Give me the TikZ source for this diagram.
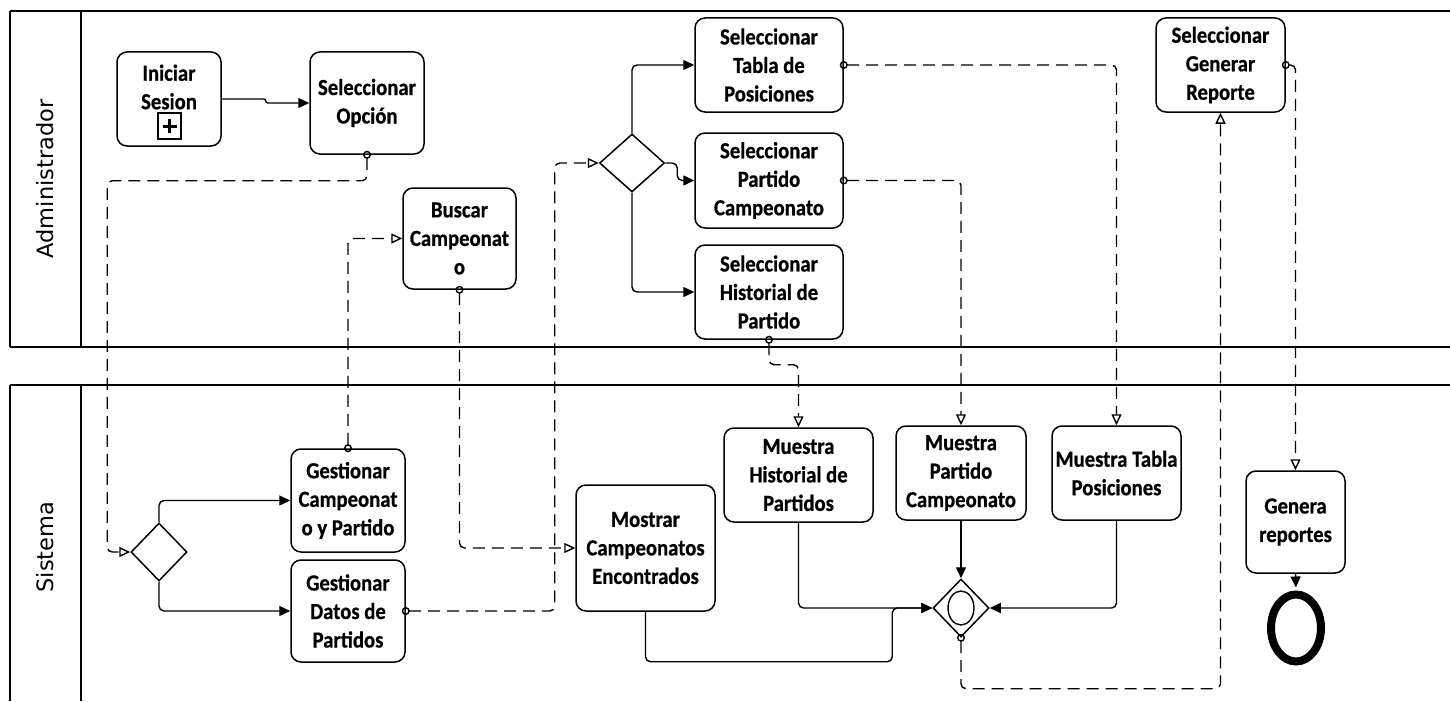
\documentclass[tikz,border=0pt]{standalone}
\usepackage{fontspec}
\setmainfont{Carlito}
\newfontfamily\taskfont[FakeStretch=0.9, BoldFeatures={FakeBold=0.6}]{Carlito}
\newfontfamily\lanefont{DejaVu Sans}
\usetikzlibrary{arrows.meta,shapes.geometric,calc}

\begin{document}
\begin{tikzpicture}[x=1pt,y=-1pt,
  lane/.style={line width=2pt},
  lanelabel/.style={font=\lanefont\fontsize{22.5}{26}\selectfont, rotate=90, inner sep=0pt},
  task/.style={draw, rounded corners=10pt, line width=1.5pt, align=center, inner sep=0pt,
    font=\taskfont\bfseries\fontsize{23}{28.5}\selectfont},
  tasktext/.style={align=center, inner sep=0pt, font=\taskfont\bfseries\fontsize{23}{28.5}\selectfont},
  gw/.style={draw, diamond, line width=1.5pt, inner sep=0pt},
  flow/.style={line width=1.4pt, rounded corners=5pt, -{Triangle[length=11pt,width=10pt]}},
  msg/.style={line width=1.4pt, dash pattern=on 12pt off 7pt, rounded corners=5pt,
    {Circle[open,length=8pt,width=8pt]}-{Triangle[open,length=11pt,width=10pt]},
    shorten <=-4pt},
]
\useasboundingbox (0,0) rectangle (1450,701);

% swimlanes
\draw[lane] (10,11) -- (1450,11);
\draw[lane] (10,347) -- (1450,347);
\draw[lane] (10,11) -- (10,347);
\draw[lane] (81,11) -- (81,347);
\draw[lane] (10,385) -- (1450,385);
\draw[lane] (10,385) -- (10,701);
\draw[lane] (81,385) -- (81,701);
\node[lanelabel] (laneAdmin) at (45,179) {Administrador};
\node[lanelabel] (laneSis) at (45,547) {Sistema};

% Administrador lane
\node[task, minimum width=104pt, minimum height=94pt] (inicio) at (169,99) {};
\node[tasktext] (inicioTxt) at (169,87) {Iniciar\\Sesion};
\node[draw, line width=1.2pt, minimum width=23pt, minimum height=26pt, inner sep=0pt] (plusbox) at (169.5,126) {};
\draw[line width=3pt] ($(plusbox.center)+(-7,0)$) -- ($(plusbox.center)+(7,0)$);
\draw[line width=3pt] ($(plusbox.center)+(0,-7)$) -- ($(plusbox.center)+(0,7)$);

\node[task, minimum width=114pt, minimum height=102pt] (opcion) at (367,103) {Seleccionar\\Opción};
\node[task, minimum width=113pt, minimum height=101pt] (buscar) at (459.5,238.5) {Buscar\\Campeonat\\o};
\node[gw, minimum width=65pt, minimum height=58pt] (gwA) at (632,163) {};
\node[task, minimum width=148pt, minimum height=94pt] (tabla) at (769,65) {Seleccionar\\Tabla de\\Posiciones};
\node[task, minimum width=148pt, minimum height=95pt] (partido) at (769,180.5) {Seleccionar\\Partido\\Campeonato};
\node[task, minimum width=148pt, minimum height=94pt] (historial) at (769,292) {Seleccionar\\Historial de\\Partido};
\node[task, minimum width=129pt, minimum height=94pt] (reporte) at (1220.5,65) {Seleccionar\\Generar\\Reporte};

% Sistema lane
\node[gw, minimum width=56pt, minimum height=58pt] (gwB) at (159,552) {};
\node[task, minimum width=114pt, minimum height=103pt] (gestC) at (348,500.5) {Gestionar\\Campeonat\\o y Partido};
\node[task, minimum width=114pt, minimum height=102pt] (gestD) at (348,611) {Gestionar\\Datos de\\Partidos};
\node[task, minimum width=139pt, minimum height=126pt] (mostrar) at (645.5,548) {Mostrar\\Campeonatos\\Encontrados};
\node[task, minimum width=149pt, minimum height=94pt] (muestraH) at (798.5,475) {Muestra\\Historial de\\Partidos};
\node[task, minimum width=130pt, minimum height=94pt] (muestraP) at (961,473) {Muestra\\Partido\\Campeonato};
\node[task, minimum width=129pt, minimum height=94pt] (muestraT) at (1116.5,473) {Muestra Tabla\\Posiciones};
\node[gw, minimum width=56pt, minimum height=58pt] (gwC) at (961,608) {};
\node[draw, ellipse, line width=1.4pt, minimum width=26pt, minimum height=34pt, inner sep=0pt] (gwCmark) at (gwC.center) {};
\node[task, minimum width=99pt, minimum height=102pt] (genera) at (1295.5,522) {Genera\\reportes};
\node[draw, ellipse, line width=8pt, minimum width=50pt, minimum height=67pt, inner sep=0pt] (endev) at (1296,628) {};

% sequence flows
\draw[flow, rounded corners=2pt] (inicio.east) -- ++(44,0) |- (opcion.west);
\draw[flow] (gwA.north) |- (tabla.west);
\draw[flow] (gwA.east) -- ++(12,0) |- (partido.west);
\draw[flow] (gwA.south) |- (historial.west);
\draw[flow] (gwB.north) |- (gestC.west);
\draw[flow] (gwB.south) |- (gestD.west);
\draw[flow] (muestraP.south) -- (gwC.north);
\draw[flow] (muestraT.south) |- (gwC.east);
\draw[flow] (muestraH.south) |- (gwC.west);
\draw[flow] (mostrar.south) -- ++(0,50) -| ([xshift=-40pt]gwC.west) -- (gwC.west);
\draw[flow, shorten >=3pt] (genera.south) -- (endev.north);

% message flows
\draw[msg] (opcion.south) -- ++(0,26) -| ([xshift=-23pt]gwB.west) -- (gwB.west);
\draw[msg] (gestC.north) |- (buscar.west);
\draw[msg] (buscar.south) |- (mostrar.west);
\draw[msg] (gestD.east) -| ([xshift=-44pt]gwA.west) -- (gwA.west);
\draw[msg] (tabla.east) -| (muestraT.north);
\draw[msg] (partido.east) -| (muestraP.north);
\draw[msg] (historial.south) -- ++(0,25) -| (muestraH.north);
\draw[msg] (gwC.south) -- ++(0,51) -| (reporte.south);
\draw[msg] (reporte.east) -| (genera.north);
\end{tikzpicture}
\end{document}
